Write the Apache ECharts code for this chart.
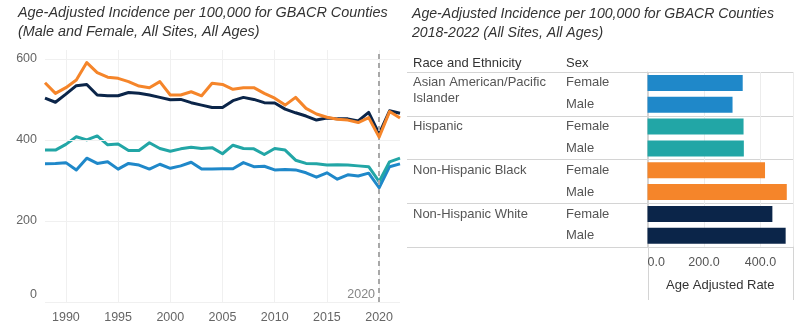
<!DOCTYPE html>
<html>
<head>
<meta charset="utf-8">
<script src="https://cdn.jsdelivr.net/npm/echarts@6/dist/echarts.min.js"></script>
<style>
html,body{margin:0;padding:0;background:#fff;}
#c{width:800px;height:333px;}
</style>
</head>
<body>
<div id="c"></div>
<script>
// ---- Left chart data ----
const years = ['1988','1989','1990','1991','1992','1993','1994','1995','1996','1997','1998','1999','2000','2001','2002','2003','2004','2005','2006','2007','2008','2009','2010','2011','2012','2013','2014','2015','2016','2017','2018','2019','2020','2021','2022'];
const white    = [503,493,513,534,537,511,509,509,517,515,511,505,499,500,492,486,480,480,497,505,500,492,491,476,467,459,449,454,452,452,447,468,415,472,466];
const black    = [541,515,529,548,591,566,555,552,544,533,529,544,511,511,519,509,540,537,525,529,529,515,503,486,505,478,464,456,451,449,443,455,407,470,454];
const hispanic = [375,375,389,408,400,410,388,390,374,374,393,379,372,378,382,379,381,366,387,379,378,364,379,375,350,342,341,338,339,338,336,334,297,346,355];
const asian    = [341,342,344,326,355,342,346,328,342,338,328,340,330,336,345,328,328,329,329,344,334,335,326,327,326,319,308,319,303,314,311,318,282,334,341];
const yTicks = [0,200,400,600];
const markYear = '2020';

// ---- Right chart data ----
const races = ['Asian American/Pacific Islander','Hispanic','Non-Hispanic Black','Non-Hispanic White'];
const sexes = ['Female','Male'];
const femaleRate = [337,340,416,442];
const maleRate   = [301,341,493,489];
const rateTicks = [0,200,400];

// ---- Styles ----
const C_ASIAN='#1f88c9', C_HISP='#22a6a6', C_BLACK='#f5852a', C_WHITE='#0b2549';
const raceColors=[C_ASIAN,C_HISP,C_BLACK,C_WHITE];
const FONT='"Liberation Sans", Arial, sans-serif';

const G0={left:45, top:50, width:355, height:252};
const G1={left:647.5, top:72, width:145.5, height:174.7};

const rowKeys=[], rowVals=[], rowCols=[];
races.forEach((r,i)=>{
  sexes.forEach((s,j)=>{
    rowKeys.push(r+'|'+s);
    rowVals.push(j===0?femaleRate[i]:maleRate[i]);
    rowCols.push(raceColors[i]);
  });
});

const chart = echarts.init(document.getElementById('c'), null, {renderer:'canvas'});

const lineS=(name,data,color,z)=>({
  name,type:'line',data,xAxisIndex:0,yAxisIndex:0,
  showSymbol:false,symbol:'none',z,
  lineStyle:{color,width:3,join:'round'},itemStyle:{color},silent:true
});

const tableLines=[];
const rowH=G1.height/races.length;
for(let k=0;k<=races.length;k++){
  const y=Math.round(G1.top+k*rowH)+0.5;
  tableLines.push({type:'line',shape:{x1:407,y1:y,x2:G1.left+G1.width,y2:y},style:{stroke:'#d4d4d4',lineWidth:1},silent:true});
}
[G1.left, G1.left+G1.width].forEach(x=>{
  const xx=Math.round(x)+0.5;
  tableLines.push({type:'line',shape:{x1:xx,y1:G1.top,x2:xx,y2:300},style:{stroke:'#d4d4d4',lineWidth:1},silent:true});
});

const titleStyle={fontFamily:FONT,fontStyle:'italic',fontWeight:'normal',fontSize:14.4,lineHeight:19,color:'#333'};
const option={
  animation:false,
  textStyle:{fontFamily:FONT},
  title:[
    {text:'Age-Adjusted Incidence per 100,000 for GBACR Counties\n(Male and Female, All Sites, All Ages)',left:18,top:3,padding:0,textStyle:titleStyle},
    {text:'Age-Adjusted Incidence per 100,000 for GBACR Counties\n2018-2022 (All Sites, All Ages)',left:412,top:5,padding:0,textStyle:Object.assign({},titleStyle,{fontSize:14.1})},
    {text:'Race and Ethnicity',left:413,top:56,padding:0,textStyle:{fontFamily:FONT,fontWeight:'normal',fontSize:13,lineHeight:14,color:'#333'}},
    {text:'Sex',left:566,top:56,padding:0,textStyle:{fontFamily:FONT,fontWeight:'normal',fontSize:13,lineHeight:14,color:'#333'}}
  ],
  grid:[
    Object.assign({containLabel:false,outerBoundsMode:'none'},G0),
    Object.assign({containLabel:false,outerBoundsMode:'none'},G1)
  ],
  xAxis:[
    {type:'category',gridIndex:0,data:years,boundaryGap:false,
     axisLine:{show:false},axisTick:{show:false},
     axisLabel:{interval:(i,v)=>(+v)%5===0,color:'#666',fontSize:12.5,margin:9,fontFamily:FONT},
     splitLine:{show:true,interval:(i,v)=>(+v)%5===0,lineStyle:{color:'#f0f0f0',width:1}}},
    {type:'value',gridIndex:1,min:0,max:515,interval:200,
     axisLine:{show:false},axisTick:{show:false},
     axisLabel:{color:'#555',fontSize:12.5,margin:9,fontFamily:FONT,showMaxLabel:false,alignMinLabel:'left',
       formatter:v=>rateTicks.includes(v)?v.toFixed(1):''},
     splitLine:{show:true,lineStyle:{color:'#ececec'}},
     name:'Age Adjusted Rate',nameLocation:'middle',nameGap:32,
     nameTextStyle:{color:'#333',fontSize:13,fontFamily:FONT}}
  ],
  yAxis:[
    {type:'value',gridIndex:0,min:0,max:622,interval:200,
     axisLine:{show:false},axisTick:{show:false},splitLine:{show:false},
     axisLabel:{color:'#666',fontSize:12.5,margin:8,fontFamily:FONT,showMaxLabel:false,
       formatter:v=>yTicks.includes(v)?(v===0?'{z|0}':String(v)):'',
       rich:{z:{color:'#666',fontSize:12.5,fontFamily:FONT,padding:[0,0,14,0]}}}},
    {type:'category',gridIndex:1,data:rowKeys,inverse:true,
     axisLine:{show:true,lineStyle:{color:'#d4d4d4'}},axisTick:{show:false},splitLine:{show:false},
     axisLabel:{interval:0,hideOverlap:false,align:'left',margin:81.5,color:'#555',fontSize:13,fontFamily:FONT,
       formatter:v=>v.split('|')[1]}},
    {type:'category',gridIndex:1,data:rowKeys,inverse:true,position:'left',
     axisLine:{show:false},axisTick:{show:false},splitLine:{show:false},
     axisLabel:{interval:0,hideOverlap:false,align:'left',margin:234.5,color:'#555',fontSize:13,lineHeight:16,fontFamily:FONT,
       formatter:v=>{
         const [r,s]=v.split('|');
         if(s!==sexes[0]) return '';
         if(r.length>22){ const i=r.lastIndexOf(' '); return '\n'+r.slice(0,i)+'\n'+r.slice(i+1); }
         return r;
       }}}
  ],
  series:[
    {type:'line',xAxisIndex:0,yAxisIndex:0,data:asian,z:0,showSymbol:false,symbol:'none',silent:true,
     lineStyle:{opacity:0,width:0},
     markLine:{silent:true,symbol:'none',label:{show:false},
       lineStyle:{color:'#f0f0f0',width:1,type:'solid'},
       data:yTicks.map(v=>({yAxis:v}))}},
    lineS('Asian American/Pacific Islander',asian,C_ASIAN,2),
    lineS('Hispanic',hispanic,C_HISP,3),
    lineS('Non-Hispanic White',white,C_WHITE,4),
    lineS('Non-Hispanic Black',black,C_BLACK,5),
    {type:'scatter',xAxisIndex:0,yAxisIndex:0,data:[[markYear,0]],symbolSize:0.1,z:6,silent:true,
     label:{show:true,formatter:markYear,position:'left',distance:4,offset:[0,-7],color:'#666',fontSize:12.5,fontFamily:FONT},
     markLine:{silent:true,symbol:'none',label:{show:false},
       lineStyle:{color:'#a8a8a8',width:2,type:[5,4]},
       data:[{xAxis:markYear}]}},
    {type:'bar',xAxisIndex:1,yAxisIndex:1,barWidth:16,silent:true,
     data:rowVals.map((v,i)=>({value:v,itemStyle:{color:rowCols[i]}}))},
    {type:'bar',xAxisIndex:1,yAxisIndex:2,barWidth:0,silent:true,data:rowVals.map(()=>0),itemStyle:{opacity:0}}
  ],
  graphic:tableLines
};
chart.setOption(option);
</script>
</body>
</html>
